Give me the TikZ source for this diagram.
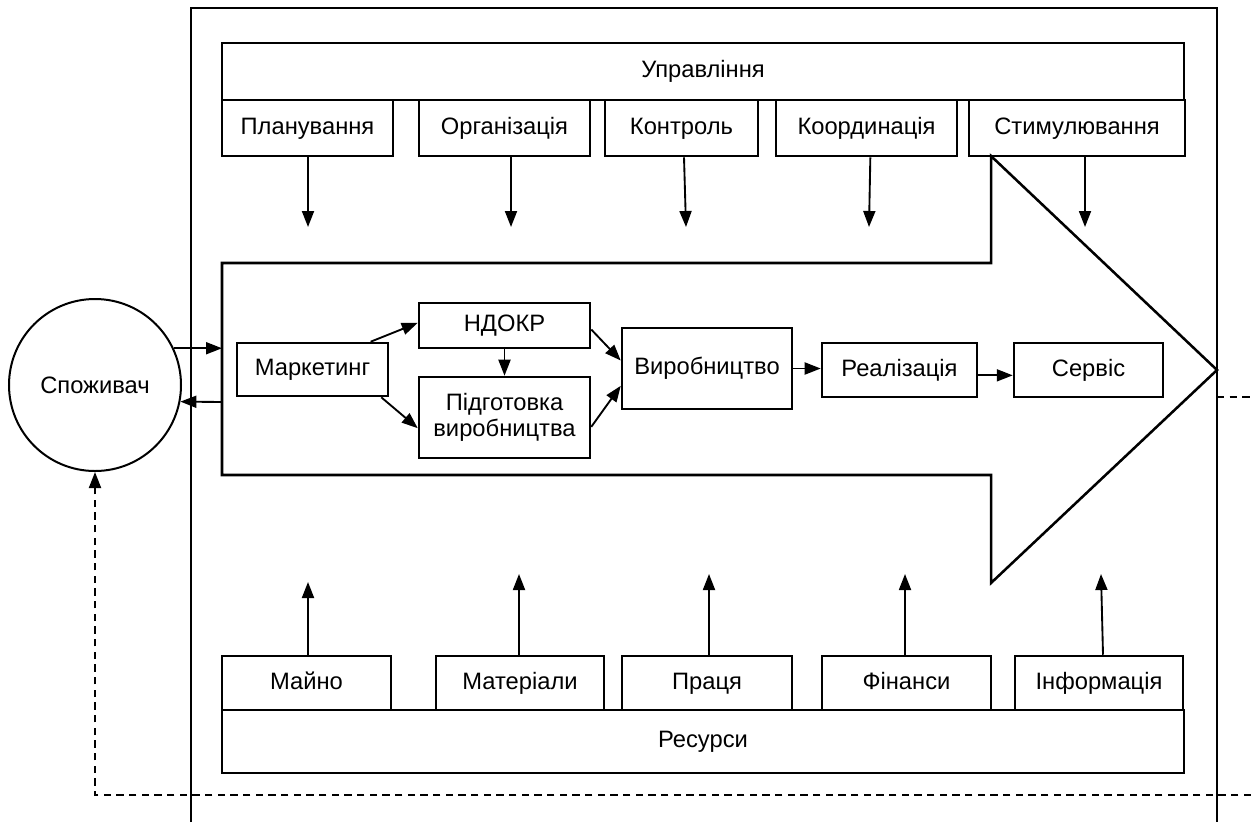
\documentclass[tikz,border=0pt]{standalone}
\usepackage{fontspec}
\setmainfont{Liberation Sans}
\usetikzlibrary{arrows.meta}
\newcommand\pxbox[7][txt]{\node[box,#1,minimum width={(#5-#3)*0.75pt},minimum height={(#6-#4)*0.75pt}] (#2) at ({(#3+#5)/2},{(#4+#6)/2}) {#7};}
\begin{document}
\begin{tikzpicture}[x=0.75pt,y=-0.75pt,
  box/.style={draw,line width=1.9pt,inner sep=0pt,align=center,font=\fontsize{17.8}{20}\selectfont},
  txt/.style={text height=12.6pt,text depth=3.4pt},
  two/.style={},
  con/.style={line width=1.4pt,-{Triangle[length=12pt,width=9pt]}},
  fb/.style={line width=1.4pt,dash pattern=on 5.5pt off 4pt},
  frameline/.style={line width=1.4pt},
  bigarrow/.style={line width=1.9pt,line join=miter}
]
\useasboundingbox (0,0) rectangle (1251,822);

% outer frame
\coordinate (fBL) at (191,822);
\coordinate (fTL) at (191,8);
\coordinate (fTR) at (1217,8);
\coordinate (fBR) at (1217,822);
\draw[frameline] (fBL) -- (fTL) -- (fTR) -- (fBR);

% management
\pxbox{upr}{222}{43}{1184}{100}{Управління}
\pxbox{plan}{222}{100}{393}{156}{Планування}
\pxbox{org}{419}{100}{590}{156}{Організація}
\pxbox{kontr}{605}{100}{758}{156}{Контроль}
\pxbox{koord}{776}{100}{957}{156}{Координація}
\pxbox{stym}{969}{100}{1185}{156}{Стимулювання}

% big arrow
\coordinate (aTL) at (222,263);
\coordinate (aT) at (991,263);
\coordinate (aTT) at (991,156);
\coordinate (aTip) at (1217,370);
\coordinate (aBB) at (991,583);
\coordinate (aB) at (991,475);
\coordinate (aBL) at (222,475);
\draw[bigarrow] (aTL) -- (aT) -- (aTT) -- (aTip) -- (aBB) -- (aB) -- (aBL) -- cycle;

% down arrows
\coordinate (d1) at (308,227);
\coordinate (d2) at (511,227);
\coordinate (d3) at (686,227);
\coordinate (d4) at (869,227);
\coordinate (d5) at (1085,227);
\draw[con] (d1 |- plan.south) -- (d1);
\draw[con] (d2 |- org.south) -- (d2);
\draw[con] ([xshift=-1.5pt]d3 |- kontr.south) -- (d3);
\draw[con] ([xshift=1pt]d4 |- koord.south) -- (d4);
\draw[con] (d5 |- stym.south) -- (d5);

% inner flow
\pxbox{mark}{237}{343}{388}{396}{Маркетинг}
\pxbox{ndokr}{419}{303}{590}{348}{НДОКР}
\pxbox[two]{pidg}{419}{377}{590}{458}{Підготовка\\виробництва}
\pxbox{vyr}{622}{328}{792}{409}{Виробництво}
\pxbox{real}{822}{343}{977}{397}{Реалізація}
\pxbox{serv}{1014}{343}{1163}{397}{Сервіс}

\draw[con] ([xshift=-14pt]mark.north east) -- ([yshift=2pt]ndokr.west);
\draw[con] ([xshift=-6pt]mark.south east) -- ([yshift=-8pt]pidg.west);
\draw[con] (ndokr.south) -- (pidg.north);
\draw[con] ([yshift=-3pt]ndokr.east) -- ([yshift=6pt]vyr.west);
\draw[con] ([yshift=-7pt]pidg.east) -- ([yshift=-13pt]vyr.west);
\draw[con] (vyr.east) -- (vyr.east -| real.west);
\draw[con] ([yshift=-4pt]real.east) -- ([yshift=-4pt]serv.west);

% consumer
\node[circle,draw,line width=1.5pt,minimum size=172*0.75pt,inner sep=0pt,font=\fontsize{17.8}{20}\selectfont] (cons) at (95,385) {Споживач};
\coordinate (in1) at (222,348);
\coordinate (out1) at (222,402);
\draw[con] (cons.25.5) -- (cons.25.5 -| in1);
\draw[con] (out1) -- (cons.-11.4);

% resources
\pxbox{res}{222}{710}{1184}{773}{Ресурси}
\pxbox{majno}{222}{656}{391}{710}{Майно}
\pxbox{mater}{436}{656}{604}{710}{Матеріали}
\pxbox{pratsia}{622}{656}{792}{710}{Праця}
\pxbox{fin}{822}{656}{991}{710}{Фінанси}
\pxbox{inf}{1015}{656}{1183}{710}{Інформація}

\coordinate (u1) at (308,582);
\coordinate (u2) at (519,574);
\coordinate (u3) at (709,574);
\coordinate (u4) at (905,574);
\coordinate (u5) at (1101,574);
\draw[con] (u1 |- majno.north) -- (u1);
\draw[con] (u2 |- mater.north) -- (u2);
\draw[con] (u3 |- pratsia.north) -- (u3);
\draw[con] (u4 |- fin.north) -- (u4);
\draw[con] ([xshift=1.5pt]u5 |- inf.north) -- (u5);

% feedback dashed lines
\coordinate (fbS) at (1217,397);
\coordinate (fbE) at (1251,397);
\draw[fb] (fbS) -- (fbE);
\coordinate (fbR) at (1251,795);
\draw[fb,-{Triangle[length=12pt,width=9pt]}] (fbR) -- (fbR -| cons.south) -- (cons.south);
\end{tikzpicture}
\end{document}
